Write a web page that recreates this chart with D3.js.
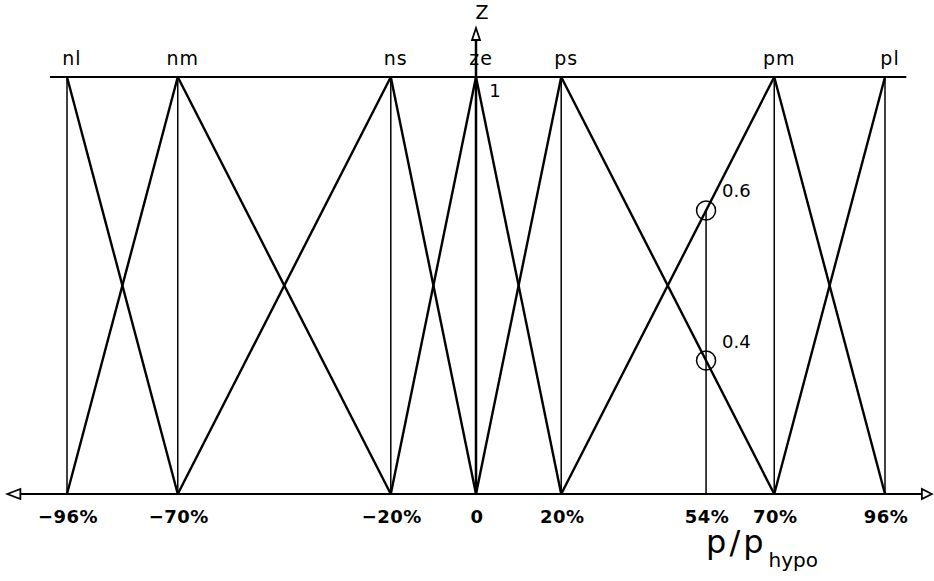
<!DOCTYPE html>
<html>
<head>
<meta charset="utf-8">
<script src="https://cdn.jsdelivr.net/npm/d3@7"></script>
<style>
html,body{margin:0;padding:0;background:#fff;}
svg{display:block;}
text{font-family:"DejaVu Sans",sans-serif;fill:#000;}
</style>
</head>
<body>
<svg id="chart" width="934" height="581"></svg>
<script>
// ---- data ----
const setNames   = ["nl", "nm", "ns", "ze", "ps", "pm", "pl"];
const peaks      = [-96, -70, -20, 0, 20, 70, 96];
const leftFeet   = [null, -96, -70, -20, 0, 20, 70];
const rightFeet  = [-70, -20, 0, 20, 70, 96, null];
const tickValues = [-96, -70, -20, 0, 20, 54, 70, 96];
const tickLabels = ["\u221296%", "\u221270%", "\u221220%", "0", "20%", "54%", "70%", "96%"];
const inputValue = 54;
const firedSets  = ["pm", "ps"];
const firedLabels = ["0.6", "0.4"];
const axisExtent = [-110, 107];
const topLineExtent = [-100, 101];

// ---- drawing ----
const svg = d3.select("#chart");
const x = d3.scaleLinear().domain([-96, 96]).range([67, 885]);
const y = d3.scaleLinear().domain([0, 1]).range([494, 77]);

function membership(i, v) {
  const p = peaks[i], l = leftFeet[i], r = rightFeet[i];
  if (v === p) return 1;
  if (v < p) { if (l === null) return 0; return v <= l ? 0 : (v - l) / (p - l); }
  if (r === null) return 0; return v >= r ? 0 : (r - v) / (r - p);
}

const g = svg.append("g");

// top line (z = 1)
g.append("line")
  .attr("x1", x(topLineExtent[0])).attr("x2", x(topLineExtent[1]))
  .attr("y1", y(1)).attr("y2", y(1))
  .attr("stroke", "#000").attr("stroke-width", 2);

// horizontal axis
g.append("line")
  .attr("x1", x(axisExtent[0]) + 12).attr("x2", x(axisExtent[1]) - 9)
  .attr("y1", y(0)).attr("y2", y(0))
  .attr("stroke", "#000").attr("stroke-width", 2);
const ax0 = x(axisExtent[0]), ax1 = x(axisExtent[1]), ay = y(0);
g.append("path")
  .attr("d", `M${ax0},${ay} L${ax0 + 13},${ay - 5} L${ax0 + 13},${ay + 5} Z`)
  .attr("fill", "#fff").attr("stroke", "#000").attr("stroke-width", 1.8);
g.append("path")
  .attr("d", `M${ax1},${ay} L${ax1 - 10},${ay - 5} L${ax1 - 10},${ay + 5} Z`)
  .attr("fill", "#fff").attr("stroke", "#000").attr("stroke-width", 1.8);

// vertical lines at peaks (except ze, which is the Z axis)
peaks.forEach((p, i) => {
  if (p === 0) return;
  g.append("line")
    .attr("x1", x(p)).attr("x2", x(p))
    .attr("y1", y(0)).attr("y2", y(1))
    .attr("stroke", "#000").attr("stroke-width", 1.5);
});

// Z axis
const zx = x(0);
g.append("line")
  .attr("x1", zx).attr("x2", zx)
  .attr("y1", y(0)).attr("y2", 40)
  .attr("stroke", "#000").attr("stroke-width", 2.5);
g.append("path")
  .attr("d", `M${zx},28 L${zx - 4},40 L${zx + 4},40 Z`)
  .attr("fill", "#fff").attr("stroke", "#000").attr("stroke-width", 1.8);
g.append("text").attr("x", zx + 6).attr("y", 19)
  .attr("text-anchor", "middle").attr("font-size", 19).text("Z");
g.append("text").attr("x", zx + 19).attr("y", 97)
  .attr("text-anchor", "middle").attr("font-size", 18).text("1");

// triangle legs
peaks.forEach((p, i) => {
  if (leftFeet[i] !== null) {
    g.append("line")
      .attr("x1", x(leftFeet[i])).attr("y1", y(0))
      .attr("x2", x(p)).attr("y2", y(1))
      .attr("stroke", "#000").attr("stroke-width", 2.4);
  }
  if (rightFeet[i] !== null) {
    g.append("line")
      .attr("x1", x(p)).attr("y1", y(1))
      .attr("x2", x(rightFeet[i])).attr("y2", y(0))
      .attr("stroke", "#000").attr("stroke-width", 2.4);
  }
});

// set labels
g.selectAll("text.set").data(setNames).enter().append("text")
  .attr("class", "set")
  .attr("x", (d, i) => x(peaks[i]) + 5)
  .attr("y", 65)
  .attr("text-anchor", "middle")
  .attr("font-size", 19)
  .attr("letter-spacing", 1)
  .text(d => d);

// tick labels
g.selectAll("text.tick").data(tickValues).enter().append("text")
  .attr("class", "tick")
  .attr("x", d => x(d) + 1)
  .attr("y", 523)
  .attr("text-anchor", "middle")
  .attr("font-size", 18)
  .attr("font-weight", "bold")
  .attr("letter-spacing", 0.5)
  .text((d, i) => tickLabels[i]);

// input value line and fired memberships
const fired = firedSets.map(s => membership(setNames.indexOf(s), inputValue));
g.append("line")
  .attr("x1", x(inputValue)).attr("x2", x(inputValue))
  .attr("y1", y(0)).attr("y2", y(d3.max(fired)))
  .attr("stroke", "#000").attr("stroke-width", 1.5);
fired.forEach((m, k) => {
  g.append("circle")
    .attr("cx", x(inputValue)).attr("cy", y(m)).attr("r", 9.5)
    .attr("fill", "none").attr("stroke", "#000").attr("stroke-width", 1.5);
  g.append("text")
    .attr("x", x(inputValue) + 16).attr("y", y(m) - 13)
    .attr("font-size", 18)
    .text(firedLabels[k]);
});

// axis title p/p_hypo
const title = g.append("text").attr("x", x(inputValue)).attr("y", 553).attr("font-size", 32);
title.append("tspan").attr("letter-spacing", 3).text("p/p");
title.append("tspan").attr("font-size", 20).attr("dy", 14).attr("dx", 2).text("hypo");
</script>
</body>
</html>
